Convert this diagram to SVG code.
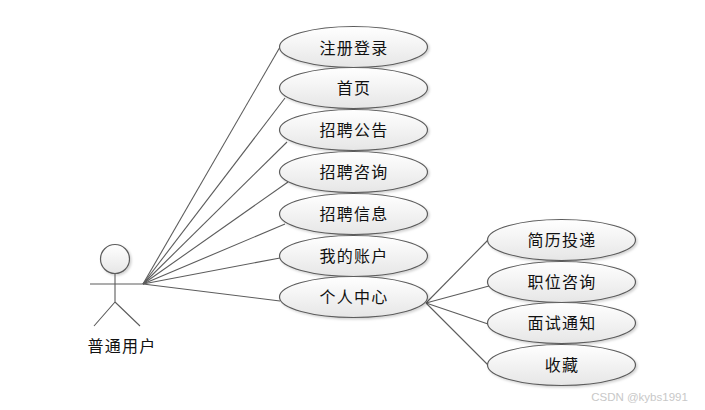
<svg xmlns="http://www.w3.org/2000/svg" width="705" height="410" viewBox="0 0 705 410">
<style>
.u{fill:url(#g);stroke:#5c5c5c;stroke-width:1.2;filter:url(#s)}
.t{font-family:"Noto Sans CJK SC","Liberation Sans",sans-serif;font-size:16px;letter-spacing:1.3px;fill:#111;text-anchor:middle}
.c line{stroke:#5c5c5c;stroke-width:1.1}
.a{fill:none;stroke:#5c5c5c;stroke-width:1.1}
</style>
<defs>
<linearGradient id="g" x1="0" y1="0" x2="0" y2="1"><stop offset="0" stop-color="#fff"/><stop offset="1" stop-color="#e6e6e6"/></linearGradient>
<filter id="s" x="-10%" y="-10%" width="125%" height="135%"><feDropShadow dx="1.5" dy="1.5" stdDeviation="1" flood-color="#000" flood-opacity="0.18"/></filter>
<ellipse id="e" class="u" rx="74" ry="20.5"/>
</defs>
<rect width="705" height="410" fill="#fff"/>
<g class="c" id="connectors">
<line x1="143" y1="284" x2="280" y2="47"/>
<line x1="143" y1="284" x2="285" y2="98"/>
<line x1="143" y1="284" x2="287" y2="142"/>
<line x1="143" y1="284" x2="288" y2="182"/>
<line x1="143" y1="284" x2="285" y2="224"/>
<line x1="143" y1="284" x2="280" y2="258"/>
<line x1="143" y1="284" x2="280" y2="301"/>
<line x1="426" y1="303" x2="488" y2="240"/>
<line x1="426" y1="303" x2="489" y2="286"/>
<line x1="426" y1="303" x2="488" y2="324"/>
<line x1="426" y1="303" x2="488" y2="365"/>
</g>
<g id="actor">
<circle cx="115" cy="259" r="14.5" fill="url(#g)" stroke="#5c5c5c" stroke-width="1.2" filter="url(#s)"/>
<path class="a" d="M115 274V302M90 284H143M115 302L94 326M115 302L140 326"/>
<text class="t" x="122" y="352">普通用户</text>
</g>
<g id="n1"><use href="#e" x="353.500" y="47"/><text class="t" x="354" y="54">注册登录</text></g>
<g id="n2"><use href="#e" x="353.500" y="88"/><text class="t" x="354" y="94">首页</text></g>
<g id="n3"><use href="#e" x="353.500" y="130"/><text class="t" x="354" y="136">招聘公告</text></g>
<g id="n4"><use href="#e" x="353.500" y="172"/><text class="t" x="354" y="178">招聘咨询</text></g>
<g id="n5"><use href="#e" x="353.500" y="214"/><text class="t" x="354" y="220">招聘信息</text></g>
<g id="n6"><use href="#e" x="353.500" y="256"/><text class="t" x="354" y="262">我的账户</text></g>
<g id="n7"><use href="#e" x="353.500" y="297"/><text class="t" x="354" y="303">个人中心</text></g>
<g id="n8"><use href="#e" x="561.500" y="240"/><text class="t" x="562" y="246">简历投递</text></g>
<g id="n9"><use href="#e" x="561.500" y="282"/><text class="t" x="562" y="288">职位咨询</text></g>
<g id="n10"><use href="#e" x="561.500" y="323"/><text class="t" x="562" y="329">面试通知</text></g>
<g id="n11"><use href="#e" x="561.500" y="365"/><text class="t" x="562" y="371">收藏</text></g>
<text x="639.500" y="401" font-family="'Liberation Sans',sans-serif" font-size="11.500" fill="#c8c8c8" text-anchor="middle">CSDN @kybs1991</text>
</svg>
